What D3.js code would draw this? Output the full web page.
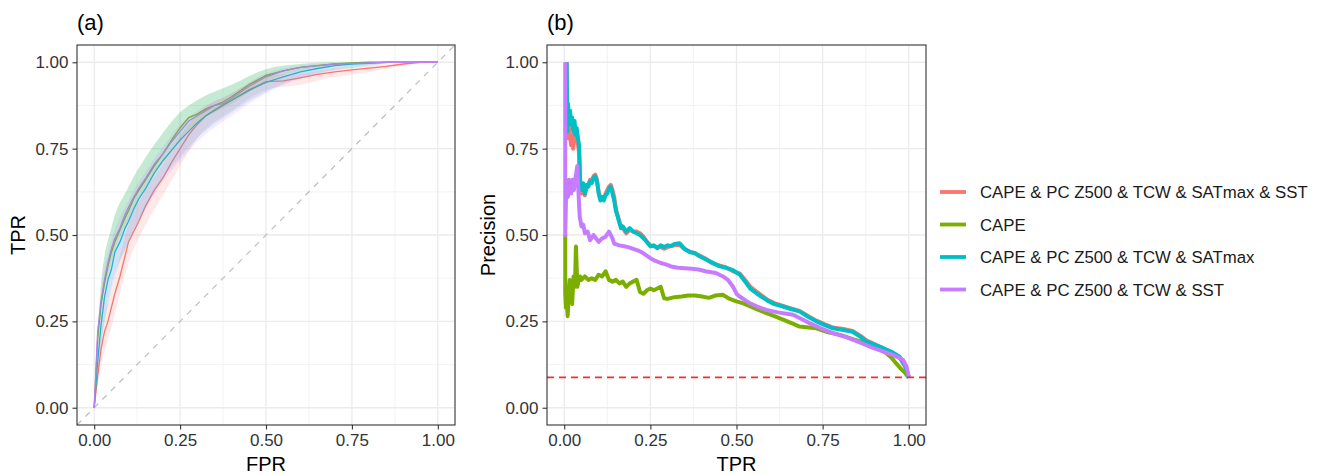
<html>
<head>
<style>
  body { margin: 0; background: #fff; }
  text { font-family: "Liberation Sans", Arial, sans-serif; }
</style>
</head>
<body>
<svg id="chart"></svg>
<script src="https://cdn.jsdelivr.net/npm/d3@7"></script>
<script>

// series names and colours (ggplot hue palette)
let seriesNames = ["CAPE & PC Z500 & TCW & SATmax & SST", "CAPE", "CAPE & PC Z500 & TCW & SATmax", "CAPE & PC Z500 & TCW & SST"];
let seriesColors = ["#F8766D", "#7CAE00", "#00BFC4", "#C77CFF"];
let tickValues = [0, 0.25, 0.5, 0.75, 1];
let minorValues = [0.125, 0.375, 0.625, 0.875];

// (a) ROC curves
let rocFpr = [0, 0.01, 0.02, 0.03, 0.04, 0.05, 0.06, 0.075, 0.09, 0.1, 0.115, 0.13, 0.15, 0.175, 0.2, 0.225, 0.25, 0.275, 0.3, 0.325, 0.35, 0.375, 0.4, 0.45, 0.5, 0.55, 0.6, 0.65, 0.7, 0.75, 0.8, 0.85, 0.9, 0.95, 1.0];
let rocTprFull   = [0, 0.09, 0.17, 0.22, 0.25, 0.29, 0.33, 0.38, 0.44, 0.48, 0.51, 0.54, 0.585, 0.63, 0.665, 0.71, 0.75, 0.79, 0.82, 0.845, 0.86, 0.875, 0.89, 0.92, 0.944, 0.946, 0.955, 0.965, 0.972, 0.978, 0.983, 0.988, 0.995, 1.0, 1.0];
let rocTprCape   = [0, 0.2, 0.3, 0.36, 0.41, 0.45, 0.48, 0.515, 0.55, 0.57, 0.605, 0.63, 0.66, 0.7, 0.735, 0.775, 0.81, 0.84, 0.85, 0.865, 0.875, 0.885, 0.9, 0.935, 0.962, 0.975, 0.985, 0.99, 0.995, 0.998, 1.0, 1.0, 1.0, 1.0, 1.0];
let rocTprSatmax = [0, 0.13, 0.24, 0.32, 0.37, 0.4, 0.45, 0.48, 0.52, 0.54, 0.575, 0.605, 0.635, 0.68, 0.715, 0.745, 0.775, 0.8, 0.825, 0.845, 0.862, 0.877, 0.89, 0.918, 0.942, 0.958, 0.972, 0.982, 0.99, 0.995, 0.997, 1.0, 1.0, 1.0, 1.0];
let rocTprSst    = [0, 0.22, 0.31, 0.37, 0.42, 0.46, 0.49, 0.52, 0.56, 0.58, 0.61, 0.635, 0.665, 0.705, 0.735, 0.77, 0.8, 0.83, 0.845, 0.86, 0.875, 0.88, 0.895, 0.93, 0.958, 0.975, 0.985, 0.99, 0.995, 0.997, 0.998, 1.0, 1.0, 1.0, 1.0];

// confidence ribbons: lower / upper TPR
let ribbonFpr = [0, 0.02, 0.05, 0.1, 0.15, 0.2, 0.25, 0.3, 0.4, 0.5, 0.6, 0.7, 0.8, 0.9, 1.0];
let ribFullLo   = [0, 0.12, 0.23, 0.42, 0.53, 0.615, 0.7, 0.78, 0.86, 0.92, 0.935, 0.958, 0.972, 0.99, 1];
let ribFullHi   = [0, 0.21, 0.34, 0.53, 0.63, 0.705, 0.785, 0.85, 0.91, 0.96, 0.968, 0.982, 0.99, 0.998, 1];
let ribCapeLo   = [0, 0.27, 0.42, 0.545, 0.635, 0.71, 0.78, 0.825, 0.88, 0.945, 0.975, 0.99, 0.998, 1, 1];
let ribCapeHi   = [0, 0.36, 0.52, 0.64, 0.725, 0.795, 0.855, 0.89, 0.935, 0.98, 0.995, 1, 1, 1, 1];
let ribSatmaxLo = [0, 0.18, 0.34, 0.48, 0.58, 0.665, 0.725, 0.78, 0.855, 0.915, 0.955, 0.978, 0.99, 1, 1];
let ribSatmaxHi = [0, 0.36, 0.52, 0.64, 0.725, 0.795, 0.855, 0.89, 0.935, 0.98, 0.995, 1, 1, 1, 1];
let ribSstLo    = [0, 0.19, 0.35, 0.48, 0.575, 0.655, 0.715, 0.77, 0.845, 0.91, 0.952, 0.976, 0.99, 1, 1];
let ribSstHi    = [0, 0.33, 0.48, 0.6, 0.685, 0.755, 0.82, 0.86, 0.91, 0.968, 0.99, 0.998, 1, 1, 1];

// (b) precision-recall curves
let prTprFull  = [0.007, 0.009, 0.011, 0.014, 0.017, 0.02, 0.023, 0.026, 0.03, 0.033, 0.036, 0.04, 0.043, 0.046, 0.05, 0.055, 0.06, 0.065, 0.07, 0.075, 0.08, 0.085, 0.09, 0.095, 0.1, 0.105, 0.11, 0.115, 0.12, 0.125, 0.13, 0.135, 0.14, 0.145, 0.15, 0.155, 0.16, 0.165, 0.17, 0.18, 0.19, 0.2, 0.21, 0.22, 0.23, 0.24, 0.25, 0.26, 0.27, 0.28, 0.29, 0.3, 0.32, 0.335, 0.35, 0.365, 0.38, 0.39, 0.41, 0.43, 0.45, 0.47, 0.49, 0.51, 0.525, 0.54, 0.56, 0.59, 0.61, 0.635, 0.66, 0.683, 0.71, 0.732, 0.755, 0.78, 0.81, 0.837, 0.86, 0.877, 0.9, 0.925, 0.95, 0.973, 0.99, 1.0];
let prPrecFull = [1.0, 0.78, 0.86, 0.8, 0.78, 0.76, 0.79, 0.75, 0.8, 0.77, 0.8, 0.76, 0.74, 0.65, 0.62, 0.64, 0.615, 0.64, 0.645, 0.66, 0.655, 0.67, 0.675, 0.66, 0.625, 0.605, 0.61, 0.605, 0.62, 0.63, 0.64, 0.645, 0.63, 0.61, 0.575, 0.555, 0.54, 0.52, 0.52, 0.505, 0.515, 0.51, 0.51, 0.505, 0.495, 0.48, 0.47, 0.468, 0.465, 0.465, 0.46, 0.465, 0.47, 0.472, 0.458, 0.452, 0.446, 0.442, 0.432, 0.418, 0.412, 0.406, 0.395, 0.388, 0.37, 0.35, 0.335, 0.312, 0.303, 0.295, 0.287, 0.28, 0.264, 0.252, 0.242, 0.232, 0.228, 0.222, 0.208, 0.195, 0.184, 0.172, 0.16, 0.146, 0.118, 0.088];

let prTprCape  = [0.003, 0.003, 0.005, 0.007, 0.01, 0.013, 0.016, 0.02, 0.023, 0.027, 0.031, 0.034, 0.038, 0.042, 0.046, 0.05, 0.06, 0.07, 0.08, 0.09, 0.1, 0.11, 0.12, 0.13, 0.14, 0.15, 0.16, 0.17, 0.18, 0.19, 0.2, 0.21, 0.22, 0.23, 0.24, 0.25, 0.26, 0.27, 0.28, 0.29, 0.3, 0.32, 0.34, 0.36, 0.38, 0.4, 0.42, 0.44, 0.46, 0.48, 0.5, 0.52, 0.54, 0.56, 0.587, 0.61, 0.635, 0.66, 0.683, 0.71, 0.732, 0.76, 0.8, 0.84, 0.877, 0.91, 0.935, 0.95, 0.963, 0.975, 0.99, 1.0];
let prPrecCape = [0.5, 0.33, 0.29, 0.31, 0.265, 0.33, 0.37, 0.33, 0.3, 0.38, 0.35, 0.467, 0.35, 0.37, 0.38, 0.37, 0.38, 0.37, 0.375, 0.37, 0.385, 0.38, 0.395, 0.37, 0.365, 0.37, 0.36, 0.365, 0.35, 0.36, 0.365, 0.37, 0.335, 0.33, 0.34, 0.345, 0.34, 0.345, 0.35, 0.317, 0.315, 0.32, 0.322, 0.325, 0.325, 0.322, 0.318, 0.325, 0.327, 0.315, 0.308, 0.302, 0.293, 0.285, 0.274, 0.265, 0.255, 0.245, 0.235, 0.232, 0.23, 0.22, 0.211, 0.198, 0.187, 0.172, 0.158, 0.145, 0.129, 0.115, 0.1, 0.087];

let prTprSatmax  = [0.007, 0.009, 0.011, 0.014, 0.017, 0.02, 0.023, 0.026, 0.03, 0.033, 0.036, 0.04, 0.043, 0.046, 0.05, 0.055, 0.06, 0.065, 0.07, 0.075, 0.08, 0.085, 0.09, 0.095, 0.1, 0.105, 0.11, 0.115, 0.12, 0.125, 0.13, 0.135, 0.14, 0.145, 0.15, 0.155, 0.16, 0.165, 0.17, 0.18, 0.19, 0.2, 0.21, 0.22, 0.23, 0.24, 0.25, 0.26, 0.27, 0.28, 0.29, 0.3, 0.31, 0.32, 0.335, 0.35, 0.365, 0.38, 0.39, 0.41, 0.43, 0.45, 0.47, 0.49, 0.51, 0.525, 0.54, 0.56, 0.59, 0.61, 0.635, 0.66, 0.683, 0.71, 0.732, 0.755, 0.78, 0.81, 0.837, 0.86, 0.877, 0.9, 0.925, 0.95, 0.973, 0.99, 1.0];
let prPrecSatmax = [1.0, 0.8, 0.88, 0.84, 0.86, 0.82, 0.84, 0.8, 0.83, 0.79, 0.81, 0.78, 0.76, 0.66, 0.63, 0.65, 0.62, 0.645, 0.64, 0.655, 0.65, 0.665, 0.67, 0.655, 0.62, 0.6, 0.61, 0.6, 0.615, 0.62, 0.635, 0.64, 0.62, 0.6, 0.57, 0.555, 0.535, 0.52, 0.525, 0.51, 0.52, 0.51, 0.505, 0.5, 0.49, 0.48, 0.467, 0.47, 0.462, 0.47, 0.465, 0.47, 0.468, 0.474, 0.476, 0.46, 0.45, 0.448, 0.44, 0.43, 0.42, 0.41, 0.405, 0.398, 0.385, 0.365, 0.345, 0.33, 0.31, 0.3, 0.293, 0.285, 0.279, 0.262, 0.25, 0.24, 0.23, 0.225, 0.22, 0.205, 0.192, 0.183, 0.173, 0.162, 0.148, 0.12, 0.088];

let prTprSst  = [0.003, 0.003, 0.005, 0.008, 0.011, 0.014, 0.017, 0.02, 0.024, 0.028, 0.032, 0.038, 0.042, 0.045, 0.05, 0.055, 0.06, 0.068, 0.075, 0.085, 0.1, 0.11, 0.12, 0.13, 0.14, 0.145, 0.16, 0.17, 0.185, 0.2, 0.215, 0.23, 0.25, 0.265, 0.28, 0.295, 0.31, 0.33, 0.35, 0.37, 0.39, 0.41, 0.44, 0.461, 0.475, 0.49, 0.5, 0.509, 0.538, 0.56, 0.587, 0.62, 0.664, 0.69, 0.712, 0.745, 0.78, 0.81, 0.837, 0.865, 0.896, 0.925, 0.954, 0.983, 0.993, 1.0];
let prPrecSst = [1.0, 0.5, 0.6, 0.65, 0.61, 0.66, 0.64, 0.62, 0.66, 0.63, 0.66, 0.7, 0.61, 0.553, 0.525, 0.53, 0.505, 0.51, 0.485, 0.5, 0.48, 0.49, 0.495, 0.51, 0.49, 0.475, 0.47, 0.468, 0.465, 0.46, 0.455, 0.447, 0.433, 0.425, 0.419, 0.415, 0.409, 0.405, 0.404, 0.402, 0.4, 0.395, 0.39, 0.38, 0.37, 0.35, 0.33, 0.322, 0.303, 0.293, 0.283, 0.276, 0.269, 0.256, 0.245, 0.23, 0.216, 0.207, 0.197, 0.186, 0.173, 0.163, 0.153, 0.139, 0.12, 0.09];

let baseline = 0.0877;

let width = 1323;
let height = 475;

let svg = d3.select("#chart")
    .attr("width", width)
    .attr("height", height);

let rocTpr = [rocTprFull, rocTprCape, rocTprSatmax, rocTprSst];
let ribLo = [ribFullLo, ribCapeLo, ribSatmaxLo, ribSstLo];
let ribHi = [ribFullHi, ribCapeHi, ribSatmaxHi, ribSstHi];
let prTpr = [prTprFull, prTprCape, prTprSatmax, prTprSst];
let prPrec = [prPrecFull, prPrecCape, prPrecSatmax, prPrecSst];

function drawFrame(left, right, xTitle, yTitle, tag) {
    let x = d3.scaleLinear().domain([-0.05, 1.05]).range([left, right]);
    let y = d3.scaleLinear().domain([-0.05, 1.05]).range([425, 45]);

    let g = svg.append("g");

    // minor grid
    minorValues.forEach(v => {
        g.append("line").attr("x1", x(v)).attr("x2", x(v)).attr("y1", 45).attr("y2", 425)
            .attr("stroke", "#F0F0F0").attr("stroke-width", 0.8);
        g.append("line").attr("x1", left).attr("x2", right).attr("y1", y(v)).attr("y2", y(v))
            .attr("stroke", "#F0F0F0").attr("stroke-width", 0.8);
    });
    // major grid
    tickValues.forEach(v => {
        g.append("line").attr("x1", x(v)).attr("x2", x(v)).attr("y1", 45).attr("y2", 425)
            .attr("stroke", "#EBEBEB").attr("stroke-width", 1.3);
        g.append("line").attr("x1", left).attr("x2", right).attr("y1", y(v)).attr("y2", y(v))
            .attr("stroke", "#EBEBEB").attr("stroke-width", 1.3);
    });

    let xAxis = svg.append("g")
        .attr("transform", "translate(0,425)")
        .call(d3.axisBottom(x).tickValues(tickValues).tickFormat(d3.format(".2f")).tickSize(4.5).tickPadding(4));
    let yAxis = svg.append("g")
        .attr("transform", `translate(${left},0)`)
        .call(d3.axisLeft(y).tickValues(tickValues).tickFormat(d3.format(".2f")).tickSize(4.5).tickPadding(4));

    [xAxis, yAxis].forEach(a => {
        a.select(".domain").remove();
        a.selectAll(".tick line").attr("stroke", "#333333").attr("stroke-width", 1.1);
        a.selectAll(".tick text")
            .attr("fill", "#333333")
            .style("font-size", "17px")
            .style("font-family", "Liberation Sans, Arial, sans-serif");
    });

    svg.append("text")
        .attr("x", (left + right) / 2)
        .attr("y", 471)
        .attr("text-anchor", "middle")
        .style("font-size", "20px")
        .text(xTitle);

    svg.append("text")
        .attr("transform", `translate(${left - 52},235) rotate(-90)`)
        .attr("text-anchor", "middle")
        .style("font-size", "20px")
        .text(yTitle);

    svg.append("text")
        .attr("x", left)
        .attr("y", 30)
        .style("font-size", "22px")
        .text(tag);

    return {x: x, y: y, g: g};
}

function drawBorder(left, right) {
    svg.append("rect")
        .attr("x", left).attr("y", 45)
        .attr("width", right - left).attr("height", 380)
        .attr("fill", "none")
        .attr("stroke", "#333333")
        .attr("stroke-width", 1.1);
}

// ---------- panel (a)
let a = drawFrame(77, 455, "FPR", "TPR", "(a)");

a.g.append("line")
    .attr("x1", a.x(-0.05)).attr("y1", a.y(-0.05))
    .attr("x2", a.x(1.05)).attr("y2", a.y(1.05))
    .attr("stroke", "#BDBDBD")
    .attr("stroke-width", 1.2)
    .attr("stroke-dasharray", "6,6");

let rocLine = d3.line()
    .x(d => a.x(d[0]))
    .y(d => a.y(d[1]));

let rocArea = d3.area()
    .x(d => a.x(d[0]))
    .y0(d => a.y(d[1]))
    .y1(d => a.y(d[2]))
    .curve(d3.curveMonotoneX);

rocTpr.forEach((tpr, i) => {
    let pts = rocFpr.map((f, j) => [f, tpr[j]]);
    a.g.append("path")
        .attr("d", rocLine(pts))
        .attr("fill", "none")
        .attr("stroke", seriesColors[i])
        .attr("stroke-width", 1.3);
});

ribLo.forEach((lo, i) => {
    let pts = ribbonFpr.map((f, j) => [f, lo[j], ribHi[i][j]]);
    a.g.append("path")
        .attr("d", rocArea(pts))
        .attr("fill", seriesColors[i])
        .attr("fill-opacity", 0.16);
});

drawBorder(77, 455);

// ---------- panel (b)
let b = drawFrame(547, 926, "TPR", "Precision", "(b)");

let prLine = d3.line()
    .x(d => b.x(d[0]))
    .y(d => b.y(d[1]));

prTpr.forEach((tpr, i) => {
    let pts = tpr.map((t, j) => [t, prPrec[i][j]]);
    b.g.append("path")
        .attr("d", prLine(pts))
        .attr("fill", "none")
        .attr("stroke", seriesColors[i])
        .attr("stroke-width", 4)
        .attr("stroke-linejoin", "round");
});

b.g.append("line")
    .attr("x1", 547).attr("x2", 926)
    .attr("y1", b.y(baseline)).attr("y2", b.y(baseline))
    .attr("stroke", "#FF2A2A")
    .attr("stroke-width", 1.8)
    .attr("stroke-dasharray", "7,5");

drawBorder(547, 926);

// ---------- legend
let legend = svg.append("g").attr("transform", "translate(940,192)");

seriesNames.forEach((name, i) => {
    let row = legend.append("g").attr("transform", `translate(0,${i * 32.5})`);
    row.append("line")
        .attr("x1", 0).attr("x2", 26)
        .attr("stroke", seriesColors[i])
        .attr("stroke-width", 3.8);
    row.append("text")
        .attr("x", 40)
        .attr("y", 6)
        .style("font-size", "16.8px")
        .attr("fill", "#1a1a1a")
        .text(name);
});

</script>
</body>
</html>
